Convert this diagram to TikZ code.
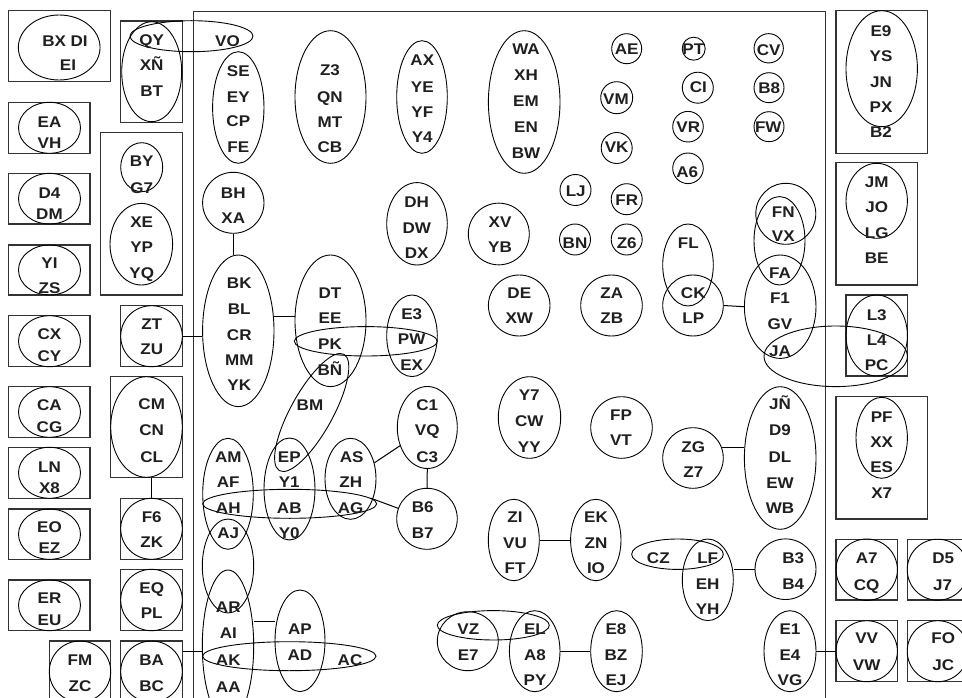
\documentclass[tikz,border=0pt]{standalone}
\usepackage{fontspec}
\newfontfamily\lbf[FakeStretch=1.1]{Liberation Sans}
\usetikzlibrary{shapes.geometric}
\newcommand{\lblfont}{\lbf\bfseries\fontsize{15.5}{18}\selectfont}
\newcommand{\mkell}[5]{\node[ell,minimum width=#4,minimum height=#5] (#1) at (#2,#3) {};}
\newcommand{\mkbox}[5]{\node[bx,minimum width=#4,minimum height=#5] (#1) at (#2,#3) {};}
\newcommand{\mktx}[4]{\node[lbl] (#1) at (#2,#3) {#4};}
\tikzset{
  ell/.style={draw=black, ellipse, inner sep=0pt, line width=0.9pt},
  bx/.style={draw=black!80, rectangle, inner sep=0pt, line width=1.1pt},
  lbl/.style={inner sep=0pt, text height=11.1pt, text depth=0pt, font=\lblfont, text=black!88},
  con/.style={draw=black, line width=1pt}
}
\begin{document}
\begin{tikzpicture}[x=1pt,y=-1pt]
\useasboundingbox (0,0) rectangle (962,698);
\clip (0,0) rectangle (962,698);
% ---------- boxes ----------
\node[bx, minimum width=632.6, minimum height=720, anchor=north west] (frame) at (192.7,10.7) {};
\mkbox{bBX}{59.5}{46.2}{102.4}{71}
\mkbox{bQY}{151.5}{71.65}{61.6}{101.3}
\mkbox{bEA}{49.15}{127.8}{81.7}{51}
\mkbox{bBY}{141.5}{213.85}{81.6}{162.3}
\mkbox{bD4}{49.15}{198.65}{81.7}{50.7}
\mkbox{bYI}{49.15}{270}{81.7}{50}
\mkbox{bZT}{151.5}{336.2}{61.6}{61}
\mkbox{bCX}{49.15}{341.2}{81.7}{51}
\mkbox{bCM}{146.5}{427}{71.6}{100.6}
\mkbox{bCA}{49.15}{412}{81.7}{50.6}
\mkbox{bLN}{49.15}{472.8}{81.7}{51}
\mkbox{bF6}{151.5}{528.8}{61.6}{61}
\mkbox{bEO}{49.15}{534.15}{81.7}{50.3}
\mkbox{bER}{49.15}{605.35}{81.7}{50.7}
\mkbox{bEQ}{151.5}{600}{61.6}{61.4}
\mkbox{bFM}{80}{671.5}{61.4}{61}
\mkbox{bBA}{151.5}{671.5}{61.6}{61}
\mkbox{bE9}{881.85}{82}{91.7}{142.6}
\mkbox{bJM}{876.85}{223.85}{81.7}{122.3}
\mkbox{bL3}{876.65}{335.5}{61.3}{81}
\mkbox{bPF}{881.85}{457.85}{91.7}{122.3}
\mkbox{bA7}{866.65}{569.65}{61.3}{60.7}
\mkbox{bD5}{937.95}{569.65}{61.3}{60.7}
\mkbox{bVV}{866.65}{651.2}{61.3}{61}
\mkbox{bFO}{937.95}{651.2}{61.3}{61}
% ---------- ellipses ----------
\mkell{eBX}{59.2}{47.5}{81.7}{65}
\mkell{eQY}{151.7}{71.7}{60}{100}
\mkell{eVO}{191.5}{36.2}{123}{31}
\mkell{eEA}{49.5}{127.8}{62}{51}
\mkell{eBY}{141.7}{167.2}{42}{49}
\mkell{eXE}{141.3}{244.2}{62.6}{81.6}
\mkell{eD4}{49.5}{198.7}{62}{50.7}
\mkell{eYI}{49.5}{270}{62}{50}
\mkell{eCX}{49.5}{341.2}{62}{51}
\mkell{eZT}{151.5}{336.2}{61.6}{61}
\mkell{eCA}{49.5}{412}{62}{50.6}
\mkell{eCM}{146.5}{427}{71.6}{100.6}
\mkell{eLN}{49.5}{472.8}{62}{51}
\mkell{eEO}{49.5}{534.2}{62}{50.3}
\mkell{eF6}{151.5}{528.8}{61.6}{61}
\mkell{eER}{49.5}{605.3}{62}{50.7}
\mkell{eEQ}{151.5}{600}{61.6}{61.4}
\mkell{eFM}{80}{671.5}{61.4}{61}
\mkell{eBA}{151.5}{671.5}{61.6}{61}
\mkell{eSE}{238.3}{107.5}{51.4}{111.6}
\mkell{eZ3}{330.5}{97}{71}{132.6}
\mkell{eAX}{422}{97}{50.6}{112.6}
\mkell{eWA}{524.2}{102}{71.6}{142.6}
\mkell{eAE}{626.7}{48.7}{30}{30}
\mkell{ePT}{693.7}{48.7}{23}{23}
\mkell{eCV}{768.7}{48.3}{29.3}{29.3}
\mkell{eCI}{697.8}{87.7}{31}{31}
\mkell{eB8}{769}{87.7}{30}{30}
\mkell{eVM}{616.7}{97.7}{32}{32}
\mkell{eVR}{688}{126.7}{30.6}{30.6}
\mkell{eFW}{769}{126.7}{30}{30}
\mkell{eVK}{616.7}{148}{31}{31}
\mkell{eA6}{688}{168.3}{30.6}{30.6}
\mkell{eLJ}{575.5}{190}{31}{31}
\mkell{eFR}{626.7}{199.2}{31}{31}
\mkell{eBN}{575}{239.5}{31}{31}
\mkell{eZ6}{626.7}{239.5}{31}{31}
\mkell{eBH}{233.3}{202.8}{61.4}{61}
\mkell{eDH}{417}{223.8}{60.6}{82.4}
\mkell{eXV}{498.8}{234}{61}{61.7}
\mkell{eBK}{238.3}{330.8}{71.4}{151.6}
\mkell{eDT}{330.5}{320.8}{71}{131.6}
\mkell{ePK}{365.8}{341.3}{143}{29.4}
\mkell{eE3}{412}{335.8}{50.6}{81.6}
\node[ell, minimum width=133, minimum height=42, rotate=61] (eBM) at (311.7,412.5) {};
\mkell{eDE}{519.2}{305.5}{61.6}{61}
\mkell{eZA}{611.5}{305.5}{61.6}{61}
\mkell{eFL}{688}{265}{50.6}{82}
\mkell{eCK}{693}{305.5}{60.6}{61}
\mkell{eFN}{785.8}{213.8}{60}{61}
\mkell{eFNt}{779.5}{240.8}{51}{88.4}
\mkell{eFA}{780.2}{306.7}{71.6}{103.4}
\mkell{eJA}{835.7}{356.3}{143.4}{60.6}
\mkell{eL3}{876.7}{335.5}{61.4}{81}
\mkell{eE9}{881.7}{68.7}{71.4}{116}
\mkell{eJM}{876.7}{200.8}{61.4}{75}
\mkell{eAM}{228}{493.8}{50.6}{111}
\mkell{eAJ}{228}{566}{51.4}{94}
\mkell{eAR}{228}{646}{51.4}{152}
\mkell{eEP}{289.5}{489}{51}{102}
\mkell{eAS}{350.5}{478.8}{51}{81}
\mkell{eAH}{289.7}{503.8}{174}{29}
\mkell{eC1}{427.3}{427.5}{60}{82}
\mkell{eB6}{427}{518.8}{60.6}{61}
\mkell{eAP}{300}{640.8}{50}{101.6}
\mkell{eAK}{289.3}{656.2}{173.4}{29}
\mkell{eY7}{529.5}{417.5}{62.4}{81.6}
\mkell{eFP}{621.5}{427.5}{61.6}{61.6}
\mkell{eZG}{693}{458}{60.6}{60.6}
\mkell{eJN}{780.2}{458}{71.6}{142.6}
\mkell{eZI}{513.8}{540}{51}{81.4}
\mkell{eEK}{595.8}{540}{50.4}{81.4}
\mkell{eCZ}{677.5}{554.2}{91.6}{30.4}
\mkell{eLF}{707.8}{579.8}{51}{81.6}
\mkell{eB3}{785.5}{569.2}{61}{60.6}
\mkell{eVZ}{467.8}{641.2}{61}{59}
\mkell{eVZh}{493.3}{625.3}{112}{29.4}
\mkell{eEL}{534.7}{651.2}{50.6}{81}
\mkell{eE8}{616.5}{651.2}{51.6}{81}
\mkell{eE1}{790}{651.2}{52}{81}
\mkell{ePF}{881.7}{437.8}{51.4}{81}
\mkell{eA7}{866.7}{569.7}{61.4}{61.4}
\mkell{eD5}{937.7}{569.7}{61}{61}
\mkell{eVV}{866.7}{651.2}{61.4}{61}
\mkell{eFO}{937.7}{651.2}{61}{61}
% ---------- connectors ----------
\draw[con] (eZT.east) -- (eZT.east -| eBK.west);
\draw[con] (eBH.south) -- (eBH.south |- eBK.north);
\draw[con] (eDT.west |- 0,316) -- (eBK.east |- 0,316);
\draw[con] (eAS) -- (eC1);
\draw[con] (eC1.south) -- (eB6.north);
\draw[con] (eAH.4) -- (eB6.160);
\draw[con] (bF6.north) -- (bF6.north |- bCM.south);
\draw[con] (bBA.east |- 0,651) -- (eAR.west |- 0,651);
\draw[con] (eAR.east |- 0,621) -- (eAP.west |- 0,621);
\draw[con] (eZI.east) -- (eEK.west);
\draw[con] (eB3.west) -- (eB3.west -| eLF.east);
\draw[con] (eEL.east) -- (eE8.west);
\draw[con] (eE1.east) -- (eVV.west);
\draw[con] (eCK.east) -- (eFA.west);
\draw[con] (eZG.20) -- (eZG.20 -| eJN.west);
% ---------- labels ----------
\mktx{tBX}{65}{41}{BX DI}
\mktx{tEI}{68}{65}{EI}
\mktx{tQY}{151.7}{40}{QY}
\mktx{tXN2}{151.7}{65}{XÑ}
\mktx{tBT}{151.7}{90.7}{BT}
\mktx{tVO}{227.5}{41.3}{VO}
\mktx{tEA}{49.5}{121.7}{EA}
\mktx{tVH}{49.5}{143.3}{VH}
\mktx{tBY}{141.7}{161}{BY}
\mktx{tG7}{141.7}{188}{G7}
\mktx{tXE}{141.7}{221.7}{XE}
\mktx{tYP}{141.7}{246.7}{YP}
\mktx{tYQ}{141.7}{273.3}{YQ}
\mktx{tD4}{49.5}{192.7}{D4}
\mktx{tDM}{49.5}{214.3}{DM}
\mktx{tYI}{49.5}{263.3}{YI}
\mktx{tZS}{49.5}{288.3}{ZS}
\mktx{tCX}{49.5}{334}{CX}
\mktx{tCY}{49.5}{356}{CY}
\mktx{tZT}{151.7}{324.3}{ZT}
\mktx{tZU}{151.7}{349.3}{ZU}
\mktx{tCA}{49.5}{405}{CA}
\mktx{tCG}{49.5}{426.7}{CG}
\mktx{tCM}{151.7}{404}{CM}
\mktx{tCN}{151.7}{430}{CN}
\mktx{tCL}{151.7}{456.7}{CL}
\mktx{tLN}{49.5}{466.7}{LN}
\mktx{tX8}{49.5}{488.3}{X8}
\mktx{tEO}{49.5}{526.7}{EO}
\mktx{tEZ}{49.5}{548.3}{EZ}
\mktx{tF6}{151.7}{517.3}{F6}
\mktx{tZK}{151.7}{542.3}{ZK}
\mktx{tER}{49.5}{598.3}{ER}
\mktx{tEU}{49.5}{620}{EU}
\mktx{tEQ}{151.7}{587.7}{EQ}
\mktx{tPL}{151.7}{613.3}{PL}
\mktx{tFM}{80}{660}{FM}
\mktx{tZC}{80}{686}{ZC}
\mktx{tBA}{151.7}{660}{BA}
\mktx{tBC}{151.7}{686}{BC}
\mktx{tSE}{238.3}{70.5}{SE}
\mktx{tEY}{238.3}{96.7}{EY}
\mktx{tCP}{238.3}{121.2}{CP}
\mktx{tFE}{238.3}{146.7}{FE}
\mktx{tZ3}{330}{70}{Z3}
\mktx{tQN}{330}{96.7}{QN}
\mktx{tMT}{330}{121.7}{MT}
\mktx{tCB}{330}{146.7}{CB}
\mktx{tAX}{422.3}{60}{AX}
\mktx{tYE}{422.3}{86.7}{YE}
\mktx{tYF}{422.3}{111.7}{YF}
\mktx{tY4}{422.3}{136.7}{Y4}
\mktx{tBH}{233.3}{192.7}{BH}
\mktx{tXA}{233.3}{218.3}{XA}
\mktx{tDH}{416.7}{201.7}{DH}
\mktx{tDW}{416.7}{227.7}{DW}
\mktx{tDX}{416.7}{253.3}{DX}
\mktx{tXV}{500}{221.7}{XV}
\mktx{tYB}{500}{246.7}{YB}
\mktx{tWA}{526}{49.3}{WA}
\mktx{tXH}{526}{75}{XH}
\mktx{tEM}{526}{100.7}{EM}
\mktx{tEN}{526}{126.7}{EN}
\mktx{tBW}{526}{152.7}{BW}
\mktx{tAE}{626.7}{49.3}{AE}
\mktx{tPT}{693.3}{49.3}{PT}
\mktx{tCV}{768.7}{50}{CV}
\mktx{tCI}{698.3}{87.3}{CI}
\mktx{tB8}{769.3}{88.3}{B8}
\mktx{tVM}{616}{99}{VM}
\mktx{tVR}{688.3}{127.3}{VR}
\mktx{tFW}{768.3}{127.3}{FW}
\mktx{tVK}{616.7}{146.7}{VK}
\mktx{tA6}{687.3}{171.7}{A6}
\mktx{tLJ}{575.7}{191}{LJ}
\mktx{tFR}{626.7}{200}{FR}
\mktx{tBN}{575}{242.7}{BN}
\mktx{tZ6}{626.7}{242.7}{Z6}
\mktx{tFL}{688.3}{243.3}{FL}
\mktx{tFN}{783.3}{211.7}{FN}
\mktx{tVX}{783.3}{236}{VX}
\mktx{tE9}{881}{30.7}{E9}
\mktx{tYS}{881}{56}{YS}
\mktx{tJN}{881}{81.7}{JN}
\mktx{tPX}{881}{106.7}{PX}
\mktx{tB2}{881}{131.7}{B2}
\mktx{tJM}{876.7}{181.7}{JM}
\mktx{tJO}{876.7}{207.3}{JO}
\mktx{tLG}{876.7}{233.3}{LG}
\mktx{tBE}{876.7}{258.3}{BE}
\mktx{tBK}{239.3}{283.3}{BK}
\mktx{tBL}{239.3}{309}{BL}
\mktx{tCR}{239.3}{335}{CR}
\mktx{tMM}{239.3}{360}{MM}
\mktx{tYK}{239.3}{385}{YK}
\mktx{tDT}{330}{293.3}{DT}
\mktx{tEE}{330}{318.3}{EE}
\mktx{tPK}{330}{344.3}{PK}
\mktx{tBN2}{330}{370}{BÑ}
\mktx{tE3}{411.7}{314}{E3}
\mktx{tPW}{411.7}{339}{PW}
\mktx{tEX}{411.7}{365}{EX}
\mktx{tBM}{310}{405}{BM}
\mktx{tDE}{519.3}{293.3}{DE}
\mktx{tXW}{519.3}{318.3}{XW}
\mktx{tZA}{611.7}{293.3}{ZA}
\mktx{tZB}{611.7}{318.3}{ZB}
\mktx{tCK}{693.3}{293.3}{CK}
\mktx{tLP}{693.3}{318.3}{LP}
\mktx{tFA}{780}{272.7}{FA}
\mktx{tF1}{780}{298.3}{F1}
\mktx{tGV}{780}{324.3}{GV}
\mktx{tJA}{780}{350.7}{JA}
\mktx{tL3}{876.7}{315}{L3}
\mktx{tL4}{876.7}{340}{L4}
\mktx{tPC}{876.7}{365}{PC}
\mktx{tY7}{529.3}{395}{Y7}
\mktx{tCW}{529.3}{420.7}{CW}
\mktx{tYY}{529.3}{446.7}{YY}
\mktx{tFP}{621}{415}{FP}
\mktx{tVT}{621}{440}{VT}
\mktx{tC1}{427.3}{405}{C1}
\mktx{tVQ}{427.3}{430}{VQ}
\mktx{tC3}{427.3}{456.7}{C3}
\mktx{tPF}{881.7}{416.7}{PF}
\mktx{tXX}{881.7}{441.7}{XX}
\mktx{tES}{881.7}{466.7}{ES}
\mktx{tX7}{881.7}{493.3}{X7}
\mktx{tZG}{693.3}{446.7}{ZG}
\mktx{tZ7}{693.3}{471.7}{Z7}
\mktx{tJN2}{780}{404}{JÑ}
\mktx{tD9}{780}{430}{D9}
\mktx{tDL}{780}{456.7}{DL}
\mktx{tEW}{780}{482.7}{EW}
\mktx{tWB}{780}{508.3}{WB}
\mktx{tAM}{228.3}{456.7}{AM}
\mktx{tAF}{228.3}{481.7}{AF}
\mktx{tAH}{228.3}{508.3}{AH}
\mktx{tAJ}{228.3}{533.3}{AJ}
\mktx{tEP}{289.3}{456.7}{EP}
\mktx{tY1}{289.3}{481.7}{Y1}
\mktx{tAB}{289.3}{508.3}{AB}
\mktx{tY0}{289.3}{533.3}{Y0}
\mktx{tAS}{351.7}{456.7}{AS}
\mktx{tZH}{350.7}{481.7}{ZH}
\mktx{tAG}{350.7}{508.3}{AG}
\mktx{tB6}{422.7}{506.7}{B6}
\mktx{tB7}{422.7}{532.7}{B7}
\mktx{tZI}{515}{517.3}{ZI}
\mktx{tVU}{515}{543.3}{VU}
\mktx{tFT}{515}{568.3}{FT}
\mktx{tEK}{596}{517.3}{EK}
\mktx{tZN}{596}{543.3}{ZN}
\mktx{tIO}{596}{568.3}{IO}
\mktx{tCZ}{658.3}{558.3}{CZ}
\mktx{tLF}{707.7}{558.3}{LF}
\mktx{tEH}{707.7}{584}{EH}
\mktx{tYH}{707.7}{609.3}{YH}
\mktx{tB3}{793.3}{558.3}{B3}
\mktx{tB4}{793.3}{584}{B4}
\mktx{tAR}{228.3}{606.7}{AR}
\mktx{tAI}{228.3}{633.3}{AI}
\mktx{tAK}{228.3}{660}{AK}
\mktx{tAA}{228.3}{686.7}{AA}
\mktx{tAP}{300}{629.3}{AP}
\mktx{tAD}{300}{655}{AD}
\mktx{tAC}{350}{660}{AC}
\mktx{tVZ}{468.3}{629.3}{VZ}
\mktx{tE7}{468.3}{655}{E7}
\mktx{tEL}{535}{629.3}{EL}
\mktx{tA8}{535}{655}{A8}
\mktx{tPY}{535}{680}{PY}
\mktx{tE8}{616}{629.3}{E8}
\mktx{tBZ}{616}{655}{BZ}
\mktx{tEJ}{616}{680}{EJ}
\mktx{tE1}{790}{629.3}{E1}
\mktx{tE4}{790}{655}{E4}
\mktx{tVG}{790}{680}{VG}
\mktx{tA7}{866.7}{558.3}{A7}
\mktx{tCQ}{866.7}{585}{CQ}
\mktx{tD5}{943.3}{558.3}{D5}
\mktx{tJ7}{942.7}{585}{J7}
\mktx{tVV}{866.7}{638.3}{VV}
\mktx{tVW}{866.7}{665}{VW}
\mktx{tFO}{943.3}{638.3}{FO}
\mktx{tJC}{943.3}{665}{JC}
\end{tikzpicture}
\end{document}
